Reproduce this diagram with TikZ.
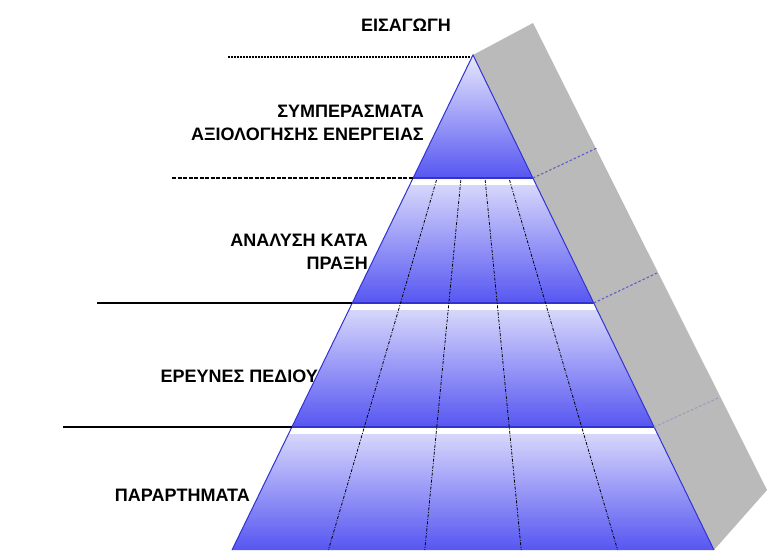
\documentclass[tikz,border=0pt]{standalone}
\usepackage{fontspec}
\setmainfont{Liberation Sans}
\usetikzlibrary{calc}
\definecolor{lav}{RGB}{222,222,252}
\definecolor{bluedeep}{RGB}{86,86,242}
\definecolor{edgeblue}{RGB}{50,50,210}
\definecolor{greyside}{RGB}{186,186,186}
\definecolor{depthline}{RGB}{95,95,205}
\begin{document}
\begin{tikzpicture}[x=1pt,y=-1pt,
  lbl/.style={font=\fontsize{18}{23}\selectfont\bfseries, inner sep=0pt, text=black, align=right},
  levelline/.style={line width=2pt, black},
  rayline/.style={line width=0.8pt, black, dash pattern=on 3pt off 1.5pt on 1pt off 1.5pt},
  depth/.style={line width=1.1pt, depthline, dash pattern=on 2.5pt off 2pt},
  pyredge/.style={line width=1pt, edgeblue}
]
\useasboundingbox (0,0) rectangle (768,550);

% key points
\coordinate (A)  at (473,55);
\coordinate (G)  at (533,23);
\coordinate (GR) at (767,490);
\coordinate (L1) at (413.1,178);  \coordinate (R1) at (532.9,178);
\coordinate (L2) at (352.3,303);  \coordinate (R2) at (593.7,303);
\coordinate (L3) at (291.9,427);  \coordinate (R3) at (654.1,427);
\coordinate (L4) at (232,550);    \coordinate (R4) at (714,550);

% grey back side
\fill[greyside] (A) -- (G) -- (GR) -- (R4) -- cycle;

% level 1 (top triangle)
\begin{scope}
  \clip (A) -- (R1) -- (L1) -- cycle;
  \shade[top color=lav!70!white, bottom color=bluedeep] (200,55) rectangle (768,178);
\end{scope}
% levels 2-4
\foreach \a/\b/\c/\d/\yt/\yb in {L1/R1/R2/L2/178/303, L2/R2/R3/L3/303/427, L3/R3/R4/L4/427/550}{
  \begin{scope}
    \clip (\a) -- (\b) -- (\c) -- (\d) -- cycle;
    \shade[top color=lav, bottom color=bluedeep] (0,\yt) rectangle (768,\yb);
    \fill[white] (0,\yt) rectangle (768,\yt+7);
  \end{scope}
}
% level bottom borders
\draw[pyredge, line width=1.6pt] (L1) -- (R1);
\draw[pyredge, line width=1.6pt] (L2) -- (R2);
\draw[pyredge, line width=1.6pt] (L3) -- (R3);
% outline
\draw[pyredge] (L4) -- (A) -- (R4);

% radial dash-dot lines
\foreach \i/\bx in {1/328.4, 2/424.8, 3/521.2, 4/617.6}{
  \coordinate (B\i) at (\bx,550);
  \coordinate (T\i) at ($(A)!0.2525!(B\i)$);
  \draw[rayline] (T\i) -- (B\i);
}

% depth lines on grey side
\coordinate (E1) at (597,148);
\coordinate (E2) at (657,273);
\coordinate (E3) at (718,398);
\draw[depth] (R1) -- (E1);
\draw[depth] (R2) -- (E2);
\draw[depth, depthline!35!greyside] (R3) -- (E3);

% horizontal level markers
\coordinate (H1) at (228,57);
\coordinate (H2) at (172,178);
\coordinate (H3) at (97,303);
\coordinate (H4) at (63,427);
\draw[levelline, dash pattern=on 2pt off 1pt] (H1) -- (471,57);
\draw[levelline, dash pattern=on 4pt off 1.5pt] (H2) -- (L1);
\draw[levelline] (H3) -- (L2);
\draw[levelline] (H4) -- (L3);

% labels
\node[lbl] (t0) at (406,25) {ΕΙΣΑΓΩΓΗ};
\node[lbl, anchor=north east] (t1) at (424,105) {ΣΥΜΠΕΡΑΣΜΑΤΑ\\ΑΞΙΟΛΟΓΗΣΗΣ ΕΝΕΡΓΕΙΑΣ};
\node[lbl, anchor=north east] (t2) at (368,234) {ΑΝΑΛΥΣΗ ΚΑΤΑ\\ΠΡΑΞΗ};
\node[lbl, anchor=east] (t3) at (318,376) {ΕΡΕΥΝΕΣ ΠΕΔΙΟΥ};
\node[lbl, anchor=east] (t4) at (250,495) {ΠΑΡΑΡΤΗΜΑΤΑ};
\end{tikzpicture}
\end{document}
